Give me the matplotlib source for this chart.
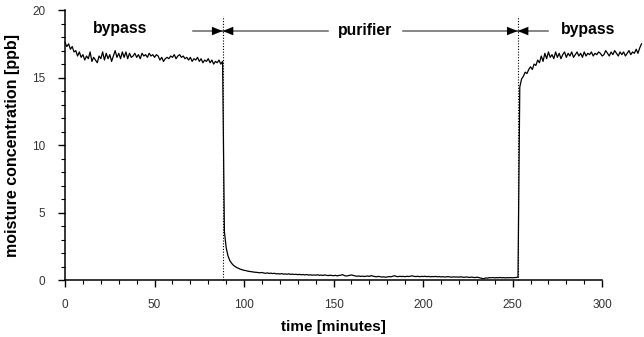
import numpy as np
import matplotlib.pyplot as plt

# moisture readings [ppb], one per minute
bypass_1 = [17.6, 17.3, 17.5, 17.1, 17.3, 16.9, 17.0, 16.6, 16.9, 16.5,
            16.7, 16.3, 16.6, 16.4, 16.9, 16.2, 16.5, 16.3, 16.1, 16.6,
            16.4, 16.9, 16.3, 16.8, 16.4, 16.7, 16.2, 16.6, 17.0, 16.5,
            16.8, 16.4, 16.9, 16.5, 16.9, 16.4, 16.8, 16.5, 16.6, 16.8,
            16.5, 16.7, 16.4, 16.8, 16.6, 16.7, 16.5, 16.8, 16.6, 16.7,
            16.5, 16.7, 16.6, 16.3, 16.5, 16.2, 16.4, 16.5, 16.4, 16.6,
            16.5, 16.7, 16.4, 16.6, 16.7, 16.5, 16.6, 16.4, 16.5, 16.3,
            16.5, 16.2, 16.4, 16.3, 16.5, 16.2, 16.4, 16.1, 16.3, 16.2,
            16.4, 16.1, 16.3, 16.0, 16.2, 16.1, 16.3, 16.0, 16.2]

purifier = [3.6, 2.4, 1.8, 1.45, 1.25, 1.1, 1.0, 0.92, 0.86, 0.8,
            0.76, 0.72, 0.7, 0.66, 0.64, 0.62, 0.6, 0.58, 0.57, 0.55,
            0.54, 0.56, 0.52, 0.5, 0.53, 0.49, 0.51, 0.48, 0.5, 0.46,
            0.47, 0.45, 0.48, 0.44, 0.45, 0.43, 0.46, 0.42, 0.44, 0.41,
            0.43, 0.40, 0.42, 0.39, 0.41, 0.38, 0.41, 0.37, 0.39, 0.36,
            0.38, 0.36, 0.39, 0.35, 0.37, 0.34, 0.38, 0.35, 0.33, 0.36,
            0.34, 0.32, 0.35, 0.31, 0.34, 0.36, 0.40, 0.33, 0.30, 0.32,
            0.35, 0.38, 0.34, 0.31, 0.28, 0.30, 0.27, 0.29, 0.26, 0.28,
            0.30, 0.27, 0.33, 0.29, 0.26, 0.24, 0.27, 0.25, 0.22, 0.24,
            0.21, 0.23, 0.26, 0.24, 0.28, 0.32, 0.27, 0.25, 0.28, 0.26,
            0.27, 0.25, 0.28, 0.26, 0.29, 0.31, 0.27, 0.26, 0.28, 0.25,
            0.27, 0.26, 0.28, 0.25, 0.27, 0.24, 0.26, 0.25, 0.27, 0.24,
            0.26, 0.23, 0.25, 0.22, 0.24, 0.25, 0.23, 0.21, 0.24, 0.22,
            0.23, 0.21, 0.24, 0.22, 0.20, 0.23, 0.21, 0.19, 0.22, 0.20,
            0.18, 0.21, 0.19, 0.15, 0.12, 0.10, 0.16, 0.14, 0.18, 0.17,
            0.19, 0.16, 0.18, 0.17, 0.19, 0.17, 0.18, 0.16, 0.18, 0.17,
            0.18, 0.17, 0.18, 0.19, 0.22]

bypass_2 = [14.3, 14.9, 15.1, 15.4, 15.3, 15.6, 15.8, 15.6, 16.0, 15.9,
            16.3, 16.1, 16.6, 16.2, 16.8, 16.4, 16.9, 16.5, 16.7, 16.4,
            16.9, 16.5, 16.8, 16.4, 16.7, 16.9, 16.5, 16.8, 16.6, 16.9,
            16.5, 16.7, 16.9, 16.6, 16.8, 16.5, 16.9, 16.6, 16.8, 16.7,
            16.9, 16.6, 16.8, 16.7, 16.9, 16.8, 16.6, 16.7, 17.0, 16.8,
            16.6, 16.9, 16.7, 17.0, 16.8, 16.6, 16.9, 16.7, 16.9, 16.6,
            16.8, 17.0, 16.7, 16.9, 16.8, 17.1, 16.8, 17.2, 17.5]

moisture = np.array(bypass_1 + purifier + bypass_2)
time = np.arange(len(moisture))  # minutes

switch_on = 88.0    # purifier switched in
switch_off = 252.8  # back to bypass

plt.rcParams['font.family'] = ['Liberation Sans', 'DejaVu Sans']
fig = plt.figure(figsize=(6.44, 3.37), dpi=100)
ax = fig.add_axes([0.101, 0.169, 0.834, 0.801])

ax.plot(time, moisture, color='black', lw=0.9, clip_on=False)

for x in (switch_on, switch_off):
    ax.plot([x, x], [0, 19.6], color='black', lw=0.8, ls=(0, (1, 1.5)), clip_on=False)

# arrows marking the phases
y_arr = 18.45
for x0, x1 in [(71.5, switch_on), (147, switch_on), (189, switch_off), (270, switch_off)]:
    ax.plot([x0, x1], [y_arr, y_arr], color='#666666', lw=1.1)
    d = 5 if x1 > x0 else -5
    ax.annotate('', xy=(x1, y_arr), xytext=(x1 - d, y_arr),
                arrowprops=dict(arrowstyle='-|>,head_length=0.75,head_width=0.3',
                                color='black', lw=0.1, shrinkA=0, shrinkB=0))

ax.text(30.6, y_arr + 0.2, 'bypass', ha='center', va='center', fontsize=11.3, fontweight='bold')
ax.text(167.5, y_arr + 0.05, 'purifier', ha='center', va='center', fontsize=11.3, fontweight='bold')
ax.text(292, y_arr + 0.15, 'bypass', ha='center', va='center', fontsize=11.3, fontweight='bold')

ax.set_xlim(0, 300)
ax.set_ylim(0, 20)
ax.set_xticks(np.arange(0, 301, 50))
ax.set_xticks(np.arange(0, 301, 10), minor=True)
ax.set_yticks(np.arange(0, 21, 5))
ax.set_yticks(np.arange(0, 21, 1), minor=True)
ax.tick_params(axis='both', which='major', length=5, width=1, labelsize=8.5, colors='black')
ax.tick_params(axis='both', which='minor', length=3, width=0.8)
ax.tick_params(axis='x', which='major', pad=9)
ax.tick_params(axis='y', which='major', pad=9)
for lab in ax.get_xticklabels() + ax.get_yticklabels():
    lab.set_color('#333333')

for s in ('top', 'right'):
    ax.spines[s].set_visible(False)
for s in ('left', 'bottom'):
    ax.spines[s].set_linewidth(1.1)

ax.set_xlabel('time [minutes]', fontsize=11, fontweight='bold', labelpad=6)
ax.set_ylabel('moisture concentration [ppb]', fontsize=11.5, fontweight='bold', labelpad=9)

fig.savefig('out.png', dpi=100)
